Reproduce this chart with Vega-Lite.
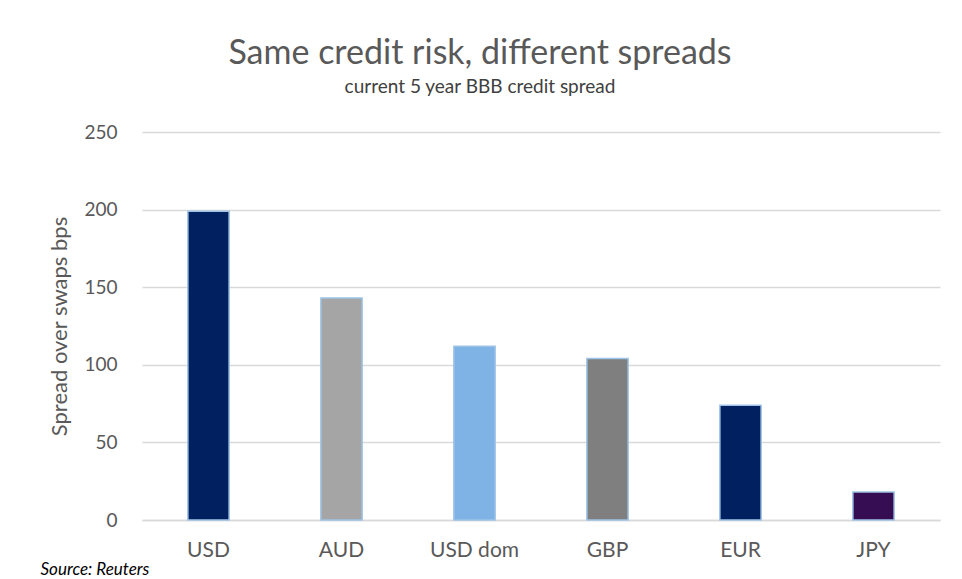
{
  "$schema": "https://vega.github.io/schema/vega-lite/v6.json",
  "autosize": {"type": "none"},
  "width": 798,
  "height": 388,
  "padding": {"left": 142, "top": 132, "right": 22, "bottom": 59},
  "background": "white",
  "title": {
    "text": "Same credit risk, different spreads",
    "subtitle": "current 5 year BBB credit spread",
    "anchor": "middle",
    "frame": "group",
    "dx": -61,
    "offset": 26,
    "font": "Lato",
    "fontSize": 34,
    "fontWeight": "normal",
    "color": "#595959",
    "subtitleFont": "Lato",
    "subtitleFontSize": 19,
    "subtitleColor": "#404040",
    "subtitlePadding": 7
  },
  "data": {
    "values": [
      {"currency": "USD", "spread": 199, "group": "USD"},
      {"currency": "AUD", "spread": 143, "group": "AUD"},
      {"currency": "USD dom", "spread": 112, "group": "USD dom"},
      {"currency": "GBP", "spread": 104, "group": "GBP"},
      {"currency": "EUR", "spread": 74, "group": "EUR"},
      {"currency": "JPY", "spread": 18, "group": "JPY"}
    ]
  },
  "mark": {"type": "bar", "stroke": "#9DC3E6", "strokeWidth": 1.5},
  "encoding": {
    "x": {
      "field": "currency",
      "type": "nominal",
      "sort": null,
      "scale": {"paddingInner": 0.69, "paddingOuter": 0.345},
      "axis": {
        "title": "Source: Reuters",
        "titleAnchor": "start",
        "titleAlign": "left",
        "titleX": -102,
        "titleY": 54,
        "titleBaseline": "alphabetic",
        "titleFont": "Lato",
        "titleFontSize": 17,
        "titleFontStyle": "italic",
        "titleFontWeight": "normal",
        "titleColor": "#000000",
        "labelAngle": 0,
        "labelFont": "Lato",
        "labelFontSize": 21,
        "labelColor": "#595959",
        "labelPadding": 19,
        "ticks": false,
        "domain": true,
        "domainColor": "#D9D9D9",
        "domainWidth": 1.5,
        "grid": false
      }
    },
    "y": {
      "field": "spread",
      "type": "quantitative",
      "scale": {"domain": [0, 250]},
      "axis": {
        "values": [0, 50, 100, 150, 200, 250],
        "title": "Spread over swaps bps",
        "titleFont": "Lato",
        "titleFontSize": 22,
        "titleFontWeight": "normal",
        "titleColor": "#595959",
        "titlePadding": 12,
        "labelFont": "Lato",
        "labelFontSize": 19,
        "labelColor": "#595959",
        "labelPadding": 25,
        "ticks": false,
        "domain": false,
        "grid": true,
        "gridColor": "#D9D9D9",
        "gridWidth": 1.5
      }
    },
    "color": {
      "field": "group",
      "type": "nominal",
      "legend": null,
      "scale": {
        "domain": ["USD", "AUD", "USD dom", "GBP", "EUR", "JPY"],
        "range": ["#002060", "#A5A5A5", "#7FB2E5", "#7F7F7F", "#002060", "#360C52"]
      }
    }
  },
  "config": {"view": {"stroke": null}}
}
